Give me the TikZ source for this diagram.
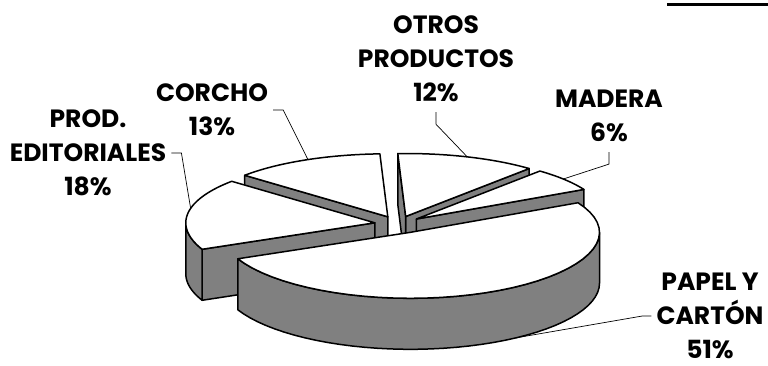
\documentclass[tikz,border=0pt]{standalone}
\usepackage{fontspec}
\newfontfamily\lblfont{Poppins}
\definecolor{sidegray}{HTML}{808080}
\tikzset{
  face/.style={draw=black, fill=white, line width=1.5pt, line join=round},
  wall/.style={draw=black, fill=sidegray, line width=1.5pt, line join=round},
  leader/.style={draw=black, line width=0.7pt},
  lbl/.style={font=\lblfont\bfseries\fontsize{25}{34}\selectfont, align=center,
    inner xsep=5pt, inner ysep=10pt}
}
\newcommand{\piedepth}{51}
% top face of a slice: apex x, apex y, from, to
\newcommand{\slicetop}[4]{%
  \draw[face] (#1,#2) -- ({#1+px(#3)},{#2+py(#3)})
    -- plot[domain=#3:#4, samples=40] ({#1+px(\x)},{#2+py(\x)}) -- cycle;}
% cut face along one radius: apex x, apex y, angle
\newcommand{\slicewall}[3]{%
  \draw[wall] (#1,#2) -- ({#1+px(#3)},{#2+py(#3)})
    -- ({#1+px(#3)},{#2+py(#3)+\piedepth}) -- (#1,#2+\piedepth) -- cycle;}
% outer band of a slice: apex x, apex y, from, to
\newcommand{\slicerim}[4]{%
  \draw[wall] plot[domain=#3:#4, samples=40] ({#1+px(\x)},{#2+py(\x)})
    -- plot[domain=#4:#3, samples=40] ({#1+px(\x)},{#2+py(\x)+\piedepth}) -- cycle;}

\begin{document}
\begin{tikzpicture}[x=1pt, y=-1pt,
    declare function={px(\t)=189*cos(\t); py(\t)=-(64.5-1.5*sin(\t))*sin(\t);}]
  \useasboundingbox (0,0) rectangle (768,365);
  \draw[line width=2.5pt] (667,4.5) -- (768,4.5);

  % slices, back to front
  \slicewall{387.8}{216.8}{139.2}
  \slicetop{387.8}{216.8}{92.4}{139.2}

  \slicewall{405.7}{216.5}{49.2}
  \slicewall{405.7}{216.5}{92.4}
  \slicetop{405.7}{216.5}{49.2}{92.4}

  \slicewall{416.4}{219.0}{27.6}
  \slicetop{416.4}{219.0}{27.6}{49.2}

  \slicewall{374.8}{222.8}{204}
  \slicerim{374.8}{222.8}{180}{204}
  \slicetop{374.8}{222.8}{139.2}{204}

  \slicerim{410.5}{232.3}{-156}{0}
  \slicetop{410.5}{232.3}{-156}{27.6}

  % leader ends on the rims
  \coordinate (corchotip) at ({387.8+px(115)},{216.8+py(115)});
  \coordinate (otrostip) at ({405.7+px(71)},{216.5+py(71)});
  \coordinate (maderatip) at ({416.4+px(39)},{219.0+py(39)});
  \coordinate (prodtip) at ({374.8+px(167)},{222.8+py(167)});
  \coordinate (papeltip) at ({410.5+px(-56)},{232.3+py(-56)+\piedepth});

  % labels
  \node[lbl] (otroslbl) at (436,59) {OTROS\\PRODUCTOS\\12\%};
  \node[lbl] (maderalbl) at (609,116) {MADERA\\6\%};
  \node[lbl] (corcholbl) at (212,110) {CORCHO\\13\%};
  \node[lbl] (prodlbl) at (88,153) {PROD.\\EDITORIALES\\18\%};
  \node[lbl, inner ysep=0pt] (papellbl) at (710,316) {PAPEL Y\\CARTÓN\\51\%};

  \draw[leader] (otroslbl.south) -- ++(0,12) -- (otrostip);
  \draw[leader] (maderalbl.south) -- ++(0,12) -- (maderatip);
  \draw[leader] (corcholbl.east) -- ++(10,0) -- (corchotip);
  \draw[leader] (prodlbl.east) -- ++(10,0) -- (prodtip);
  \draw[leader] (papellbl.west) -- ++(-9,0) -- (papeltip);
\end{tikzpicture}
\end{document}
